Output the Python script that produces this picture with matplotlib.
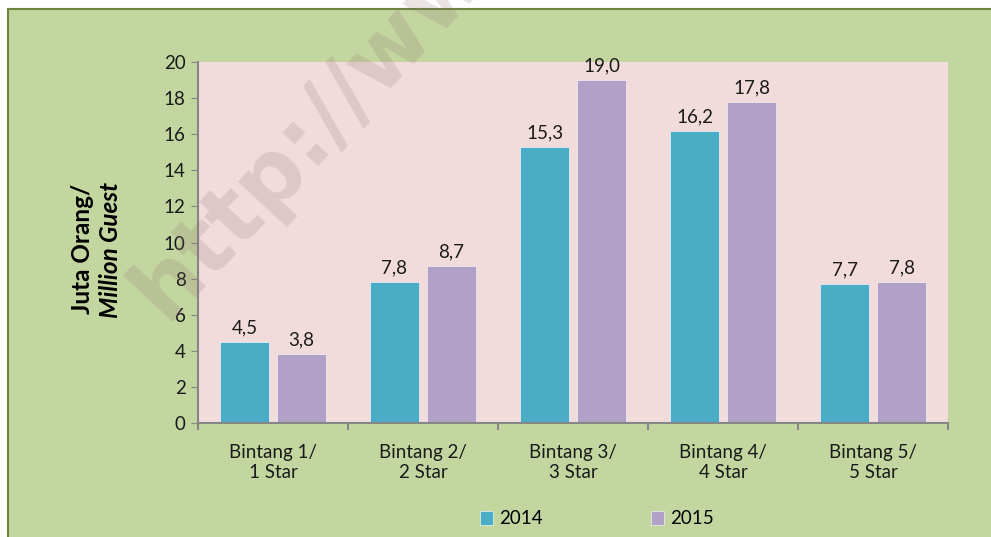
import matplotlib.pyplot as plt
import numpy as np
from matplotlib.patches import Rectangle

categories = ['Bintang 1/\n1 Star', 'Bintang 2/\n2 Star', 'Bintang 3/\n3 Star',
              'Bintang 4/\n4 Star', 'Bintang 5/\n5 Star']
years = ['2014', '2015']
guests_2014 = [4.5, 7.8, 15.3, 16.2, 7.7]
guests_2015 = [3.8, 8.7, 19.0, 17.8, 7.8]
yticks = [0, 2, 4, 6, 8, 10, 12, 14, 16, 18, 20]

green = '#C4D6A0'
pink = '#F2DCDB'
teal = '#4BACC6'
lavender = '#B2A1C7'
gray = '#868686'

plt.rcParams['font.family'] = ['Lato', 'DejaVu Sans']

fig = plt.figure(figsize=(9.91, 5.37), dpi=100)
fig.patch.set_facecolor('white')
fig.patches.append(Rectangle((8 / 991, -0.05), 1.2, 1 - 9 / 537 + 0.05,
                             transform=fig.transFigure, facecolor=green,
                             edgecolor='#6E8340', linewidth=1.5, zorder=-5))

ax = fig.add_axes([198 / 991, 1 - 423 / 537, 750 / 991, 361 / 537])
ax.set_zorder(1)
ax.set_facecolor(pink)

x = np.arange(len(categories))
w = 0.33
b1 = ax.bar(x - 0.19, guests_2014, w, color=teal, edgecolor='white', linewidth=0.4, label=years[0])
b2 = ax.bar(x + 0.19, guests_2015, w, color=lavender, edgecolor='white', linewidth=0.4, label=years[1])

for bars, vals in ((b1, guests_2014), (b2, guests_2015)):
    for r, v in zip(bars, vals):
        ax.annotate(('%.1f' % v).replace('.', ','), (r.get_x() + r.get_width() / 2, v),
                    xytext=(0, 4), textcoords='offset points', ha='center', va='bottom',
                    fontsize=13.5, color='#1A1A1A')

ax.set_xlim(-0.5, len(categories) - 0.5)
ax.set_ylim(0, 20)
ax.set_yticks(yticks)
ax.tick_params(axis='y', length=5, color=gray, labelsize=13.5, labelcolor='#1A1A1A', pad=4)
ax.set_xticks(x)
ax.set_xticklabels(categories, fontsize=13.5, color='#1A1A1A', linespacing=1.25)
ax.tick_params(axis='x', which='major', length=0, pad=15)
ax.set_xticks(np.arange(-0.5, len(categories)), minor=True)
ax.tick_params(axis='x', which='minor', length=5, color=gray, width=1.5)
for s in ('top', 'right'):
    ax.spines[s].set_visible(False)
for s in ('left', 'bottom'):
    ax.spines[s].set_color(gray)
    ax.spines[s].set_linewidth(1.5)

fig.text(83 / 991, 1 - 249 / 537, 'Juta Orang/', rotation=90, ha='center', va='center',
         fontsize=17.5, fontweight='bold', zorder=5)
fig.text(111 / 991, 1 - 250 / 537, 'Million Guest', rotation=90, ha='center', va='center',
         fontsize=17.5, fontweight='bold', style='italic', zorder=5)

fig.legend(loc='center', bbox_to_anchor=(597 / 991, 1 - 519 / 537), ncol=2, frameon=False,
           fontsize=13.5, handlelength=0.7, handleheight=0.7, handletextpad=0.3,
           columnspacing=5.8)

# faint watermark over the chart
fig.text(166 / 991, 1 - 322 / 537, 'http://www', rotation=47, ha='left',
         va='baseline', fontsize=64, fontweight='bold', family='DejaVu Sans',
         color='#8A6A6A', alpha=0.18, rotation_mode='anchor', zorder=10)

fig.savefig('out.png', dpi=100, facecolor=fig.get_facecolor())
